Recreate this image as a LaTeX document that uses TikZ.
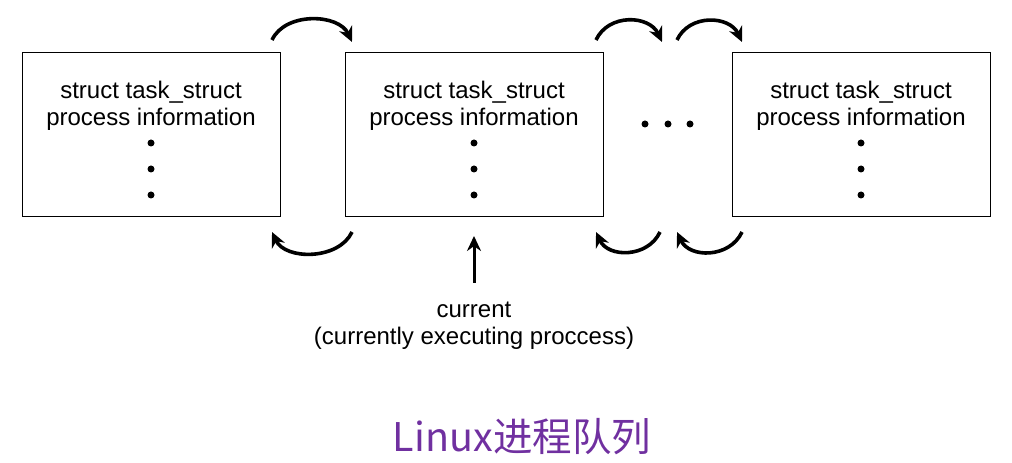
\documentclass[tikz,border=0pt]{standalone}
\usepackage{fontspec}
\setmainfont{Liberation Sans}
\newfontfamily\cjk{Noto Sans CJK SC}
\usetikzlibrary{arrows.meta}
\definecolor{title_purple}{RGB}{112,48,160}

\begin{document}
\begin{tikzpicture}[x=1pt,y=1pt,line width=1pt,>={Stealth[length=15pt,width=14pt]}]
    \tikzstyle{task}=[draw=black, rectangle, minimum width=258pt, minimum height=164pt, inner sep=0pt]
    \tikzstyle{txt}=[font=\fontsize{24}{27}\selectfont, inner sep=0pt, align=center]
    \tikzstyle{link}=[->, line width=3.6pt, out=65, in=115]
    \tikzstyle{back}=[->, line width=3.6pt, out=-115, in=-65]
    \tikzstyle{dot}=[fill=black, circle, minimum size=7pt, inner sep=0pt]
    \useasboundingbox (0,0) rectangle (1012,463);

    % the three task_struct boxes
    \foreach \n/\x in {1/151, 2/474, 3/861} {
      \node[task] (t\n) at (\x,328) {};
      \node[txt] (s\n) at (\x,371) {struct task\_struct};
      \node[txt] (p\n) at (\x,344) {process information};
      \node[dot] (d\n a) at (\x,320) {};
      \node[dot] (d\n b) at (\x,294) {};
      \node[dot] (d\n c) at (\x,268) {};
    }

    % dots between boxes
    \node[dot] (e1) at (645,339) {};
    \node[dot] (e2) at (668,339) {};
    \node[dot] (e3) at (690,339) {};

    % next / prev arrows
    \coordinate (a1) at (272,423);
    \coordinate (b1) at (352,421);
    \coordinate (a2) at (596,423);
    \coordinate (b2) at (662,421);
    \coordinate (a3) at (677,423);
    \coordinate (b3) at (742,421);
    \coordinate (c1) at (352,231);
    \coordinate (f1) at (272,231);
    \coordinate (c2) at (660,231);
    \coordinate (f2) at (596,231);
    \coordinate (c3) at (742,231);
    \coordinate (f3) at (677,231);
    \path
     (a1) edge[link] (b1)
     (a2) edge[link, looseness=1.15] (b2)
     (a3) edge[link, looseness=1.15] (b3)
     (c1) edge[back] (f1)
     (c2) edge[back, looseness=1.15] (f2)
     (c3) edge[back, looseness=1.15] (f3)
     ;

    % current pointer
    \node[txt] (cur) at (474,137) {current\\(currently executing proccess)};
    \coordinate (curtail) at (474,180);
    \coordinate (curtip) at (474,227);
    \draw[->, line width=3pt] (curtail) -- (curtip);

    \node[font=\cjk\fontsize{39.5}{42}\selectfont, text=title_purple, inner sep=0pt] (title) at (522,26) {Linux进程队列};
\end{tikzpicture}
\end{document}
